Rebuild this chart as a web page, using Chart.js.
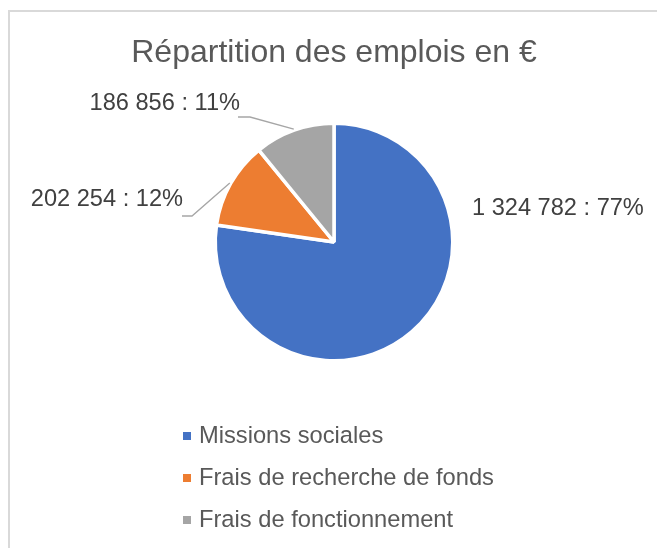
<!DOCTYPE html>
<html lang="fr">
<head>
    <meta charset="UTF-8">
    <title>Répartition des emplois en €</title>
    <script src="https://cdn.jsdelivr.net/npm/chart.js"></script>
    <style>
        body, html {
            margin: 0;
            padding: 0;
            width: 100%;
            height: 100%;
            overflow: hidden;
            background: #fff;
            font-family: "Liberation Sans", Arial, sans-serif;
        }
        #box {
            position: absolute;
            left: 8px;
            top: 10px;
            width: 648px;
            height: 536px;
            border-left: 2px solid #d9d9d9;
            border-top: 2px solid #d9d9d9;
        }
    </style>
</head>
<body>
    <div id="box"><canvas id="pieChart"></canvas></div>

    <script>
        const categories = ["Missions sociales", "Frais de recherche de fonds", "Frais de fonctionnement"];
        const amounts = [1324782, 202254, 186856];
        const colors = ["#4472C4", "#ED7D31", "#A5A5A5"];

        // where Excel put each data label, relative to the pie centre (px)
        const labelPlacement = [
            { dx: 138, dy: -34, align: 'left', leader: null },
            { dx: -151, dy: -43, align: 'right', leader: { x0: -152, x1: -142, y: -26 } },
            { dx: -94, dy: -138.5, align: 'right', leader: { x0: -96, x1: -84, y: -125 } }
        ];

        const FONT = '"Liberation Sans", Arial, sans-serif';
        const fmt = v => String(v).replace(/\B(?=(\d{3})+(?!\d))/g, ' ');

        const excelLabels = {
            id: 'excelLabels',
            afterDatasetsDraw(chart) {
                const ctx = chart.ctx;
                const meta = chart.getDatasetMeta(0);
                const data = chart.data.datasets[0].data;
                const total = data.reduce((a, b) => a + b, 0);
                ctx.save();
                meta.data.forEach((arc, i) => {
                    const p = arc.getProps(['x', 'y', 'startAngle', 'endAngle', 'outerRadius'], true);
                    const place = labelPlacement[i];
                    if (place.leader) {
                        const mid = (p.startAngle + p.endAngle) / 2;
                        const ex = p.x + Math.cos(mid) * (p.outerRadius + 1);
                        const ey = p.y + Math.sin(mid) * (p.outerRadius + 1);
                        ctx.beginPath();
                        ctx.moveTo(p.x + place.leader.x0, p.y + place.leader.y);
                        ctx.lineTo(p.x + place.leader.x1, p.y + place.leader.y);
                        ctx.lineTo(ex, ey);
                        ctx.strokeStyle = '#a6a6a6';
                        ctx.lineWidth = 1.3;
                        ctx.stroke();
                    }
                    const pct = Math.round(data[i] / total * 100);
                    ctx.font = '23.6px ' + FONT;
                    ctx.fillStyle = '#404040';
                    ctx.textAlign = place.align;
                    ctx.textBaseline = 'middle';
                    ctx.fillText(fmt(data[i]) + ' : ' + pct + '%', p.x + place.dx, p.y + place.dy);
                });
                ctx.restore();
            },
            afterDraw(chart) {
                // vertical legend under the pie, like Excel
                const ctx = chart.ctx;
                const area = chart.chartArea;
                const cx = (area.left + area.right) / 2;
                const left = cx - 151;
                ctx.save();
                ctx.font = '23.7px ' + FONT;
                ctx.textAlign = 'left';
                ctx.textBaseline = 'middle';
                chart.data.labels.forEach((lab, i) => {
                    const y = area.bottom + 73.5 + i * 42;
                    ctx.fillStyle = chart.data.datasets[0].backgroundColor[i];
                    ctx.fillRect(left, y - 4, 8, 8);
                    ctx.fillStyle = '#595959';
                    ctx.fillText(lab, left + 16, y);
                });
                ctx.restore();
            }
        };

        const ctx = document.getElementById('pieChart').getContext('2d');
        new Chart(ctx, {
            type: 'pie',
            data: {
                labels: categories,
                datasets: [{
                    data: amounts,
                    backgroundColor: colors,
                    borderColor: '#ffffff',
                    borderWidth: 3.5
                }]
            },
            options: {
                responsive: true,
                maintainAspectRatio: false,
                animation: false,
                layout: { padding: { top: 0, bottom: 185.5, left: 0, right: 0 } },
                plugins: {
                    title: {
                        display: true,
                        text: 'Répartition des emplois en €',
                        color: '#595959',
                        font: { family: FONT, size: 32, weight: 'normal' },
                        padding: { top: 21.5, bottom: 49.6 }
                    },
                    legend: { display: false },
                    tooltip: { enabled: false }
                }
            },
            plugins: [excelLabels]
        });
    </script>
</body>
</html>
